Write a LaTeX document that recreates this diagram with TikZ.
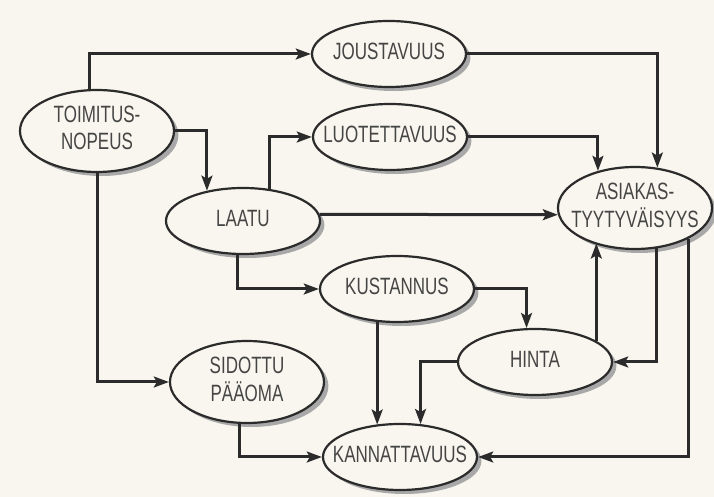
\documentclass[tikz,border=0pt]{standalone}
\usepackage{fontspec}
\setmainfont[FakeStretch=0.72]{Liberation Sans}
\usetikzlibrary{arrows.meta,shapes.geometric}
\definecolor{ink}{HTML}{2B2B2B}
\definecolor{txt}{HTML}{454545}
\definecolor{paper}{HTML}{F8F6EE}
\definecolor{shadowgrey}{HTML}{A8A8A8}
\newcommand{\lbl}[1]{\makebox[0pt]{\begin{tabular}{@{}c@{}}#1\end{tabular}}}
\tikzset{
  ell/.style={ellipse,draw=ink,line width=1.1pt,fill=paper,minimum width=77pt,minimum height=33pt,inner sep=0pt,text=txt,font=\fontsize{11.8}{13.5}\selectfont},
  ell2/.style={ell,minimum height=41pt},
  drop/.style={fill=shadowgrey,draw=none},
  ar/.style={-{Stealth[length=7.5pt,width=5.4pt,inset=1.5pt]},draw=ink,line width=1.5pt},
}

\begin{document}
\begin{tikzpicture}[x=.5pt,y=-.5pt]
  \fill[paper] (0,0) rectangle (714,497);
  \useasboundingbox (0,0) rectangle (714,497);
  % ── ellipses, each with its shadow ──
  \foreach \nm/\pos/\sty/\ry/\tx in {
      toim/{97,131}/ell2/41/{TOIMITUS-\\NOPEUS},
      jou/{389,54}/ell/33/{JOUSTAVUUS},
      luo/{390,137}/ell/33/{LUOTETTAVUUS},
      laatu/{243,221}/ell/33/{LAATU},
      kus/{397,289}/ell/33/{KUSTANNUS},
      sid/{247,382}/ell2/41/{SIDOTTU\\PÄÄOMA},
      hinta/{535,362}/ell/33/{HINTA},
      asia/{635,208}/ell2/41/{ASIAKAS-\\TYYTYVÄISYYS},
      kann/{400,457}/ell/33/{KANNATTAVUUS}}{
    \fill[drop] ([shift={(4.4,4)}]\pos) ellipse (77 and \ry);
    \node[\sty] (\nm) at (\pos) {\lbl{\tx}};
  }
  % ── from toimitusnopeus ──
  \draw[ar] (toim.100) |- (jou.west);
  \draw[ar] (toim.east) -| (laatu.140);
  \draw[ar] (toim.south) |- (sid.west);
  % ── from laatu ──
  \draw[ar] (laatu.50) |- (luo.west);
  \draw[ar] (laatu.5) -- (asia.185);
  \draw[ar] (laatu.260) |- (kus.west);
  % ── into asiakastyytyväisyys ──
  \draw[ar] (jou.east) -| (asia.61);
  \draw[ar] (luo.east) -| (asia.135);
  \draw[ar] (hinta.19) -- (hinta.19 |- asia.220);
  % ── cost and price ──
  \draw[ar] (kus.east) -| (hinta.104);
  \draw[ar] (kus.239) -- (kus.239 |- kann.127);
  \draw[ar] (hinta.west) -| (kann.58);
  \draw[ar] (asia.298) |- (hinta.east);
  % ── into kannattavuus ──
  \draw[ar] (asia.330) |- (kann.east);
  \draw[ar] (sid.260) |- (kann.west);
\end{tikzpicture}
\end{document}
